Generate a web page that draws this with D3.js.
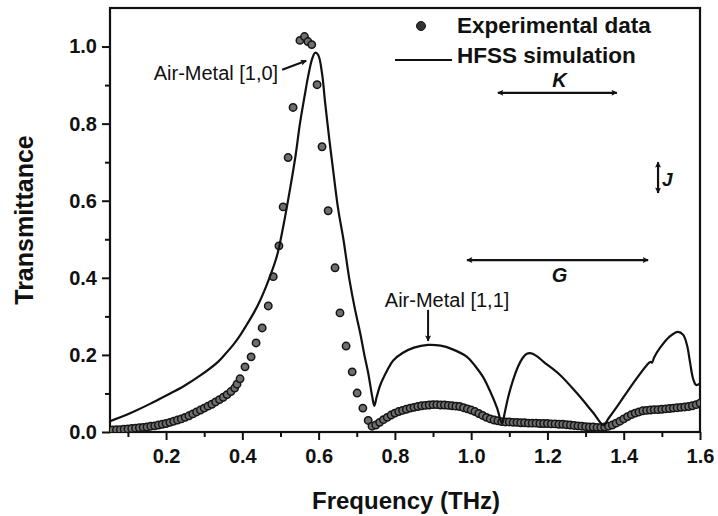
<!DOCTYPE html>
<html>
<head>
<meta charset="utf-8">
<script src="https://cdn.jsdelivr.net/npm/d3@7"></script>
<style>
  html, body { margin: 0; padding: 0; background: #fff; }
  svg { display: block; font-family: "Liberation Sans", Arial, Helvetica, sans-serif; }
</style>
</head>
<body>
<svg id="chart" width="718" height="516"></svg>
<script>
// Tick values
const xMajorTicks = [0.2, 0.4, 0.6, 0.8, 1.0, 1.2, 1.4, 1.6];
const xMinorTicks = [0.1, 0.3, 0.5, 0.7, 0.9, 1.1, 1.3, 1.5];
const yMajorTicks = [0.0, 0.2, 0.4, 0.6, 0.8, 1.0];
const yMinorTicks = [0.1, 0.3, 0.5, 0.7, 0.9];

// HFSS simulation: [frequency (THz), transmittance]
const simulation = [
  [0.053, 0.028], [0.080, 0.038], [0.113, 0.052], [0.158, 0.073], [0.203, 0.096],
  [0.245, 0.118], [0.289, 0.146], [0.334, 0.180], [0.355, 0.202], [0.376, 0.226],
  [0.395, 0.252], [0.412, 0.279], [0.430, 0.309], [0.446, 0.340], [0.460, 0.372],
  [0.473, 0.405], [0.491, 0.458], [0.507, 0.532], [0.525, 0.630],
  [0.540, 0.720], [0.551, 0.800], [0.563, 0.870], [0.572, 0.920], [0.583, 0.968],
  [0.591, 0.984], [0.599, 0.978], [0.609, 0.930], [0.617, 0.855], [0.628, 0.760],
  [0.638, 0.680], [0.651, 0.580], [0.665, 0.500], [0.680, 0.400], [0.695, 0.320],
  [0.709, 0.257], [0.720, 0.200], [0.730, 0.153], [0.740, 0.095], [0.746, 0.068],
  [0.752, 0.090], [0.761, 0.120], [0.780, 0.160], [0.795, 0.185], [0.820, 0.205],
  [0.850, 0.219], [0.887, 0.226], [0.920, 0.224], [0.950, 0.215], [0.989, 0.195],
  [1.010, 0.172], [1.031, 0.143], [1.050, 0.105], [1.068, 0.062], [1.081, 0.022],
  [1.088, 0.050], [1.097, 0.090], [1.110, 0.135], [1.123, 0.170], [1.135, 0.192],
  [1.146, 0.203], [1.158, 0.204], [1.172, 0.197], [1.190, 0.182], [1.233, 0.148],
  [1.277, 0.101], [1.320, 0.050], [1.347, 0.018], [1.360, 0.035], [1.382, 0.065],
  [1.425, 0.127], [1.461, 0.174], [1.470, 0.182], [1.474, 0.180], [1.480, 0.194],
  [1.495, 0.218], [1.521, 0.248], [1.542, 0.260], [1.556, 0.252], [1.566, 0.225],
  [1.574, 0.180], [1.582, 0.138], [1.590, 0.122], [1.600, 0.125]
];

// Experimental data: [frequency (THz), transmittance]
const experimental = [
  [0.06, 0.005], [0.07, 0.006], [0.08, 0.006], [0.09, 0.007], [0.10, 0.008],
  [0.11, 0.009], [0.12, 0.010], [0.13, 0.011], [0.14, 0.012], [0.15, 0.013],
  [0.16, 0.015], [0.17, 0.016], [0.18, 0.018], [0.19, 0.020], [0.20, 0.022],
  [0.21, 0.025], [0.22, 0.028], [0.23, 0.031], [0.24, 0.034], [0.25, 0.038],
  [0.26, 0.042], [0.27, 0.047], [0.28, 0.052], [0.29, 0.057], [0.30, 0.062],
  [0.31, 0.067], [0.32, 0.072], [0.33, 0.078], [0.34, 0.084], [0.35, 0.090],
  [0.36, 0.097], [0.37, 0.105], [0.38, 0.114], [0.386, 0.124],
  [0.394, 0.138], [0.407, 0.169], [0.423, 0.195], [0.436, 0.231], [0.452, 0.270],
  [0.468, 0.327], [0.481, 0.403], [0.496, 0.483], [0.507, 0.584], [0.520, 0.712],
  [0.533, 0.842], [0.551, 1.016], [0.563, 1.026], [0.572, 1.013], [0.582, 1.005],
  [0.596, 0.901], [0.609, 0.740], [0.625, 0.574], [0.643, 0.426], [0.656, 0.309],
  [0.672, 0.223], [0.688, 0.156], [0.701, 0.101], [0.716, 0.062], [0.730, 0.030],
  [0.74, 0.015], [0.75, 0.018], [0.76, 0.025], [0.77, 0.032], [0.78, 0.038],
  [0.79, 0.044], [0.80, 0.049], [0.81, 0.053], [0.82, 0.056], [0.83, 0.059],
  [0.84, 0.062], [0.85, 0.064], [0.86, 0.066], [0.87, 0.068], [0.88, 0.069],
  [0.89, 0.070], [0.90, 0.071], [0.91, 0.071], [0.92, 0.070], [0.93, 0.070],
  [0.94, 0.069], [0.95, 0.068], [0.96, 0.067], [0.97, 0.066], [0.98, 0.063],
  [0.99, 0.060], [1.00, 0.057], [1.01, 0.053], [1.02, 0.048], [1.03, 0.043],
  [1.04, 0.038], [1.05, 0.034], [1.06, 0.031], [1.07, 0.029], [1.08, 0.027],
  [1.09, 0.026], [1.10, 0.026], [1.11, 0.025], [1.12, 0.025], [1.13, 0.024],
  [1.14, 0.024], [1.15, 0.023], [1.16, 0.023], [1.17, 0.023], [1.18, 0.022],
  [1.19, 0.022], [1.20, 0.022], [1.21, 0.021], [1.22, 0.021], [1.23, 0.020],
  [1.24, 0.020], [1.25, 0.019], [1.26, 0.018], [1.27, 0.017], [1.28, 0.016],
  [1.29, 0.015], [1.30, 0.014], [1.31, 0.013], [1.32, 0.013], [1.33, 0.012],
  [1.34, 0.012], [1.35, 0.013], [1.36, 0.015], [1.37, 0.018], [1.38, 0.023],
  [1.39, 0.028], [1.40, 0.034], [1.41, 0.040], [1.42, 0.045], [1.43, 0.049],
  [1.44, 0.052], [1.45, 0.055], [1.46, 0.056], [1.47, 0.057], [1.48, 0.058],
  [1.49, 0.058], [1.50, 0.059], [1.51, 0.060], [1.52, 0.061], [1.53, 0.062],
  [1.54, 0.063], [1.55, 0.064], [1.56, 0.065], [1.57, 0.066], [1.58, 0.068],
  [1.59, 0.071], [1.60, 0.075]
];

// Horizontal band arrows: [label, from THz, to THz, transmittance level]
const hBands = [
  ["K", 1.070, 1.382, 0.880],
  ["G", 0.989, 1.464, 0.446]
];
// Vertical band arrow: [label, frequency, from T, to T]
const vBands = [["J", 1.490, 0.620, 0.700]];

// Mode labels: [text, frequency of mode, transmittance of mode]
const modeLabels = [
  ["Air-Metal [1,0]", 0.591, 0.984],
  ["Air-Metal [1,1]", 0.887, 0.226]
];

const legendItems = ["Experimental data", "HFSS simulation"];

const svg = d3.select("#chart");
const W = 718, H = 516;
const margin = { left: 110, right: 18, top: 8, bottom: 84 };
const x = d3.scaleLinear().domain([0.053, 1.6]).range([margin.left, W - margin.right]);
const y = d3.scaleLinear().domain([0, 1.1]).range([H - margin.bottom, margin.top]);

const ink = "#111";
const defs = svg.append("defs");
defs.append("marker")
  .attr("id", "head").attr("viewBox", "0 0 10 10")
  .attr("refX", 9).attr("refY", 5)
  .attr("markerWidth", 9).attr("markerHeight", 6)
  .attr("markerUnits", "userSpaceOnUse")
  .attr("orient", "auto-start-reverse")
  .append("path").attr("d", "M0,0 L10,5 L0,10 L2,5 Z").attr("fill", ink);

// Axes
svg.append("g").attr("transform", `translate(0,${y(0)})`)
  .call(d3.axisBottom(x).tickValues(xMajorTicks).tickSize(8).tickPadding(9)
    .tickFormat(d3.format(".1f")));
svg.append("g").attr("transform", `translate(0,${y(0)})`)
  .call(d3.axisBottom(x).tickValues(xMinorTicks).tickSize(5).tickFormat(""));
svg.append("g").attr("transform", `translate(${x.range()[0]},0)`)
  .call(d3.axisLeft(y).tickValues(yMajorTicks).tickSize(8).tickPadding(5)
    .tickFormat(d3.format(".1f")));
svg.append("g").attr("transform", `translate(${x.range()[0]},0)`)
  .call(d3.axisLeft(y).tickValues(yMinorTicks).tickSize(5).tickFormat(""));

svg.selectAll(".domain").remove();
svg.selectAll(".tick line").attr("stroke", ink).attr("stroke-width", 2);
svg.selectAll(".tick text")
  .attr("fill", ink).style("font-size", "20px").style("font-weight", "bold")
  .style("font-family", "'Liberation Sans', Arial, sans-serif");

// Plot frame
svg.append("rect")
  .attr("x", x.range()[0]).attr("y", y.range()[1])
  .attr("width", x.range()[1] - x.range()[0])
  .attr("height", y.range()[0] - y.range()[1])
  .attr("fill", "none").attr("stroke", ink).attr("stroke-width", 2.2);

// Clip for data marks
defs.append("clipPath").attr("id", "plotClip").append("rect")
  .attr("x", x.range()[0]).attr("y", y.range()[1] - 10)
  .attr("width", x.range()[1] - x.range()[0])
  .attr("height", y.range()[0] - y.range()[1] + 10);

const plot = svg.append("g").attr("clip-path", "url(#plotClip)");

// Experimental points
plot.append("g").selectAll("circle").data(experimental).join("circle")
  .attr("cx", d => x(d[0])).attr("cy", d => y(d[1])).attr("r", 3.7)
  .attr("fill", "#6f6f6f").attr("stroke", "#151515").attr("stroke-width", 1.5);

// Simulation curve
const line = d3.line().x(d => x(d[0])).y(d => y(d[1])).curve(d3.curveCatmullRom.alpha(0.5));
plot.append("path").datum(simulation)
  .attr("d", line).attr("fill", "none").attr("stroke", ink)
  .attr("stroke-width", 2.2).attr("stroke-linejoin", "round");

// Axis titles
svg.append("text")
  .attr("x", (x.range()[0] + x.range()[1]) / 2 + 1).attr("y", 509)
  .attr("text-anchor", "middle").attr("fill", ink)
  .style("font-size", "24px").style("font-weight", "bold")
  .text("Frequency (THz)");
svg.append("text")
  .attr("transform", `translate(33,${(y.range()[0] + y.range()[1]) / 2}) rotate(-90)`)
  .attr("text-anchor", "middle").attr("fill", ink)
  .style("font-size", "25px").style("font-weight", "bold")
  .text("Transmittance");

// Legend
const legend = svg.append("g").attr("transform", "translate(395,0)");
legend.append("circle").attr("cx", 26).attr("cy", 26).attr("r", 4.5).attr("fill", "#333").attr("stroke", ink);
legend.append("line").attr("x1", 0).attr("x2", 57).attr("y1", 60).attr("y2", 60)
  .attr("stroke", ink).attr("stroke-width", 2.2);
legend.selectAll("text").data(legendItems).join("text")
  .attr("x", 62).attr("y", (d, i) => 33 + i * 30)
  .attr("fill", ink).style("font-size", "22.5px").style("font-weight", "bold")
  .text(d => d);

// Band arrows
hBands.forEach(([label, f0, f1, t]) => {
  svg.append("line")
    .attr("x1", x(f0)).attr("x2", x(f1)).attr("y1", y(t)).attr("y2", y(t))
    .attr("stroke", ink).attr("stroke-width", 2.2)
    .attr("marker-start", "url(#head)").attr("marker-end", "url(#head)");
  const above = label === "K";
  svg.append("text")
    .attr("x", (x(f0) + x(f1)) / 2 + 2).attr("y", above ? y(t) - 6 : y(t) + 22)
    .attr("text-anchor", "middle").attr("fill", ink)
    .style("font-size", "20px").style("font-weight", "bold").style("font-style", "italic")
    .text(label);
});
vBands.forEach(([label, f, t0, t1]) => {
  svg.append("line")
    .attr("x1", x(f)).attr("x2", x(f)).attr("y1", y(t0)).attr("y2", y(t1))
    .attr("stroke", ink).attr("stroke-width", 2.2)
    .attr("marker-start", "url(#head)").attr("marker-end", "url(#head)");
  svg.append("text")
    .attr("x", x(f) + 4).attr("y", (y(t0) + y(t1)) / 2 + 8)
    .attr("fill", ink)
    .style("font-size", "19px").style("font-weight", "bold").style("font-style", "italic")
    .text(label);
});

// Mode labels with pointers
{
  const [txt, f, t] = modeLabels[0];
  const px = x(f), py = y(t);
  svg.append("text").attr("x", px - 37).attr("y", py + 27)
    .attr("text-anchor", "end").attr("fill", ink).style("font-size", "20px")
    .text(txt);
  svg.append("line")
    .attr("x1", px - 33).attr("y1", py + 17).attr("x2", px - 9).attr("y2", py + 8)
    .attr("stroke", ink).attr("stroke-width", 2).attr("marker-end", "url(#head)");
}
{
  const [txt, f, t] = modeLabels[1];
  const px = x(f), py = y(t);
  svg.append("text").attr("x", px + 19).attr("y", py - 38)
    .attr("text-anchor", "middle").attr("fill", ink).style("font-size", "20px")
    .text(txt);
  svg.append("line")
    .attr("x1", px).attr("y1", py - 35).attr("x2", px).attr("y2", py - 4)
    .attr("stroke", ink).attr("stroke-width", 2).attr("marker-end", "url(#head)");
}
</script>
</body>
</html>
